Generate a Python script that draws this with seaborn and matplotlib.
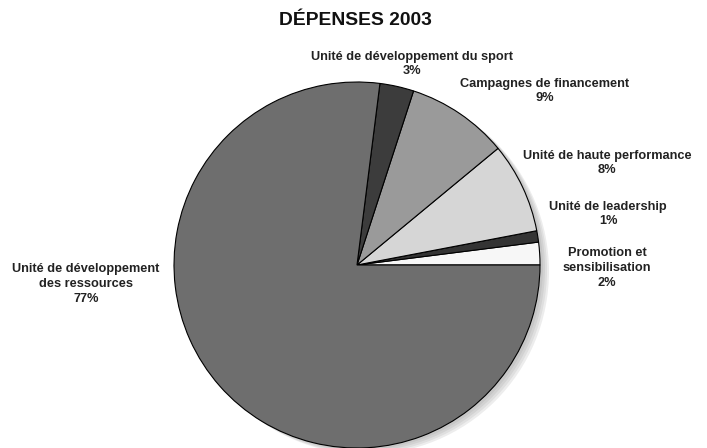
import matplotlib
matplotlib.use("Agg")
import matplotlib.pyplot as plt
import seaborn as sns
from matplotlib.patches import Circle

sns.set_theme(style="white")
plt.rcParams['font.family'] = ['Liberation Sans', 'DejaVu Sans']

# --- Data (counter-clockwise from 3 o'clock) ---
categories = [
    "Promotion et\nsensibilisation",
    "Unité de leadership",
    "Unité de haute performance",
    "Campagnes de financement",
    "Unité de développement du sport",
    "Unité de développement\ndes ressources",
]
shares = [2, 1, 8, 9, 3, 77]
colors = ["#f7f7f7", "#343434", "#d6d6d6", "#9a9a9a", "#3c3c3c", "#6e6e6e"]

# label anchor points in pixels (x from left, y from top)
label_pos = [(607, 268), (608, 214), (607, 163), (545, 91), (412, 64), (86, 284)]

W, H = 707, 448
fig = plt.figure(figsize=(W / 100, H / 100), dpi=100)
ax = fig.add_axes([0, 0, 1, 1])

cx, cy, r = 357, H - 265, 183

# soft shadow to the lower right
for i, a in enumerate([0.05, 0.05, 0.06, 0.07]):
    ax.add_patch(Circle((cx + 3 + i * 2, cy - 2 - i * 1.5), r, color="black",
                        alpha=a, lw=0, zorder=0))

ax.pie(shares, colors=colors, startangle=0, counterclock=True,
       center=(cx, cy), radius=r, frame=True,
       wedgeprops=dict(edgecolor="black", linewidth=0.8))
ax.set_xlim(0, W)
ax.set_ylim(0, H)
ax.set_aspect("auto")
ax.axis("off")

for name, val, (px, py) in zip(categories, shares, label_pos):
    ax.text(px, H - py, f"{name}\n{val}%", ha="center", va="center",
            fontsize=9.2, fontweight="bold", color="#222222", linespacing=1.3)

ax.text(355, H - 20, "DÉPENSES 2003", ha="center", va="center",
        fontsize=13.9, fontweight="bold", color="#111111")

fig.savefig("out.png", dpi=100)
